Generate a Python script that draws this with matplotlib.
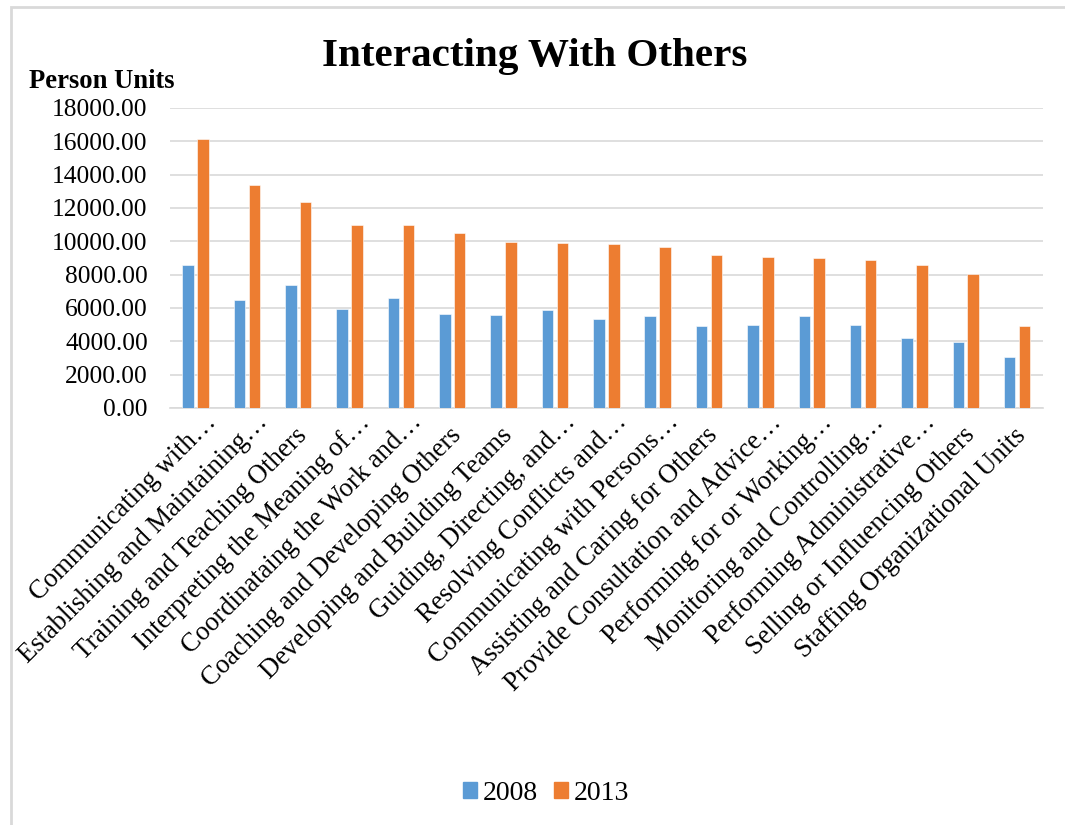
import matplotlib
matplotlib.use("Agg")
import matplotlib.pyplot as plt
import matplotlib.transforms as mtransforms
from matplotlib.patches import Rectangle, Patch
import numpy as np

plt.rcParams["font.family"] = ["Liberation Serif", "DejaVu Serif"]

categories = [
    "Communicating with…",
    "Establishing and Maintaining…",
    "Training and Teaching Others",
    "Interpreting the Meaning of…",
    "Coordinataing the Work and…",
    "Coaching and Developing Others",
    "Developing and Building Teams",
    "Guiding, Directing, and…",
    "Resolving Conflicts and…",
    "Communicating with Persons…",
    "Assisting and Caring for Others",
    "Provide Consultation and Advice…",
    "Performing for or Working…",
    "Monitoring and Controlling…",
    "Performing Administrative…",
    "Selling or Influencing Others",
    "Staffing Organizational Units",
]
units_2008 = [8600, 6490, 7350, 5950, 6610, 5650, 5590, 5890, 5330,
              5530, 4910, 4950, 5490, 4950, 4210, 3970, 3070]
units_2013 = [16110, 13350, 12380, 10980, 10980, 10500, 9940, 9900, 9860,
              9660, 9160, 9040, 9000, 8880, 8580, 8020, 4910]
yticks = [0, 2000, 4000, 6000, 8000, 10000, 12000, 14000, 16000, 18000]

BLUE = "#5B9BD5"
ORANGE = "#ED7D31"
GRID = "#D9D9D9"

fig = plt.figure(figsize=(10.65, 8.25), dpi=100)
ax = fig.add_axes([0.1596, 0.5055, 0.8197, 0.3636])

# outer chart frame (right and bottom edges fall outside the canvas)
fig.add_artist(Rectangle((11 / 1065, -0.05), 1.2, (825 - 7) / 825 + 0.05,
                         transform=fig.transFigure, fill=False,
                         edgecolor=GRID, linewidth=2.0))

x = np.arange(len(categories))
w = 0.224
ax.bar(x - 0.148, units_2008, w, color=BLUE, edgecolor="white", linewidth=0.4, zorder=3)
ax.bar(x + 0.142, units_2013, w, color=ORANGE, edgecolor="white", linewidth=0.4, zorder=3)

ax.set_xlim(-0.5, len(categories) - 0.5)
ax.set_ylim(0, 18000)
ax.set_yticks(yticks)
ax.set_yticklabels([f"{v:.2f}" for v in yticks], fontsize=18.4)
ax.grid(True, axis="y", color=GRID, linewidth=1.2, zorder=0)
for side in ("top", "right", "left"):
    ax.spines[side].set_visible(False)
ax.spines["bottom"].set_color(GRID)
ax.spines["bottom"].set_linewidth(1.2)
ax.tick_params(axis="both", length=0)
ax.tick_params(axis="y", pad=16)

ax.set_xticks(x)
ax.set_xticklabels(categories, fontsize=19.2, rotation=45, ha="right",
                   rotation_mode="anchor", va="top")
# truncated names sit a little further up along their diagonal
for lbl in ax.get_xticklabels():
    dx, dy = -4, -10
    if lbl.get_text().endswith("…"):
        dx, dy = dx + 12, dy + 13
    shift = mtransforms.ScaledTranslation(dx / 100, dy / 100, fig.dpi_scale_trans)
    lbl.set_transform(lbl.get_transform() + shift)

fig.text(535 / 1065, 1 - 66 / 825, "Interacting With Others", fontsize=29.6,
         fontweight="bold", ha="center", va="baseline")
fig.text(29 / 1065, 1 - 88 / 825, "Person Units", fontsize=19.2,
         fontweight="bold", ha="left", va="baseline")

handles = [Patch(color=BLUE, label="2008"), Patch(color=ORANGE, label="2013")]
fig.legend(handles=handles, loc="center", bbox_to_anchor=(546 / 1065, 1 - 793 / 825),
           ncol=2, frameon=False, fontsize=20, handlelength=0.5, handleheight=0.5,
           handletextpad=0.2, columnspacing=0.6)

fig.savefig("out.png", dpi=100)
